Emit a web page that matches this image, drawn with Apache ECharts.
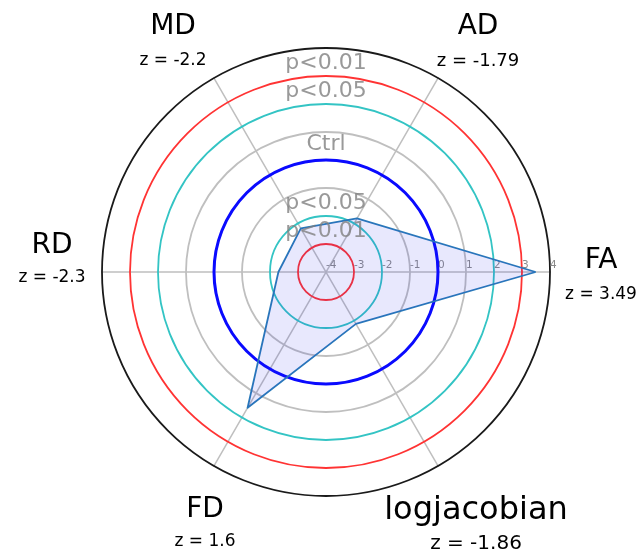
<!DOCTYPE html>
<html>
<head>
<meta charset="utf-8">
<script src="https://cdn.jsdelivr.net/npm/echarts@6/dist/echarts.min.js"></script>
<style>
  html, body { margin: 0; padding: 0; background: #ffffff; }
  #chart { width: 642px; height: 554px; }
</style>
</head>
<body>
<div id="chart"></div>
<script>
// Diffusion metrics, z-scores against controls
const axisNames = ['FA', 'AD', 'MD', 'RD', 'FD', 'logjacobian'];
const zScores = [3.49, -1.79, -2.2, -2.3, 1.6, -1.86];

// radial scale of z
const rMin = -4;
const rMax = 4;
const rStep = 1;

// reference bands drawn as circles (index = tick index from rMin)
const bandLabels = ['p<0.01', 'p<0.05', 'Ctrl', 'p<0.05', 'p<0.01'];
const bandLabelRadii = [3.45, 2.45, 0.55, -1.55, -2.55];

const CX = 326, CY = 272, R = 224;
const FONT = 'DejaVu Sans';
const GRID = '#bfbfbf';

const ringColors = [GRID, '#ff3333', '#33c4c4', GRID, GRID, GRID, '#33c4c4', '#ff3333', '#1a1a1a'];
const ctrlRingColors = ['transparent', 'transparent', 'transparent', 'transparent', '#0a0aff',
  'transparent', 'transparent', 'transparent', 'transparent'];

// placement of the axis titles around the dial
const titleLayout = [
  { x: 601, y: 261, zy: 295, size: 28, zsize: 17 },
  { x: 478, y: 27, zy: 61, size: 28, zsize: 18 },
  { x: 173, y: 27, zy: 61, size: 28, zsize: 17 },
  { x: 52, y: 246, zy: 278, size: 28, zsize: 17 },
  { x: 205, y: 510, zy: 542, size: 28, zsize: 17 },
  { x: 476, y: 511, zy: 544, size: 32, zsize: 20 }
];

const graphics = [];
axisNames.forEach(function (name, i) {
  const L = titleLayout[i];
  graphics.push({
    type: 'text', x: L.x, y: L.y, silent: true,
    style: { text: name, fill: '#000', fontFamily: FONT, fontSize: L.size, align: 'center', verticalAlign: 'middle' }
  });
  graphics.push({
    type: 'text', x: L.x, y: L.zy, silent: true,
    style: { text: 'z = ' + zScores[i], fill: '#000', fontFamily: FONT, fontSize: L.zsize, align: 'center', verticalAlign: 'middle' }
  });
});

function angleAxisHidden(idx) {
  return {
    polarIndex: idx, type: 'value', min: 0, max: 360, startAngle: 0, clockwise: false,
    axisLine: { show: false }, axisTick: { show: false }, axisLabel: { show: false }, splitLine: { show: false }
  };
}

const chart = echarts.init(document.getElementById('chart'), null, { renderer: 'canvas' });
chart.setOption({
  backgroundColor: '#ffffff',
  animation: false,
  polar: [
    { center: [CX, CY], radius: R },
    { center: [CX, CY], radius: R }
  ],
  angleAxis: [angleAxisHidden(0), angleAxisHidden(1)],
  radiusAxis: [
    {
      polarIndex: 0, type: 'value', min: rMin, max: rMax, interval: rStep, z: 1,
      axisLine: { show: false }, axisTick: { show: false },
      axisLabel: {
        show: true, color: '#8a8a8a', fontFamily: FONT, fontSize: 10.5,
        align: 'left', verticalAlign: 'bottom', margin: 1
      },
      splitLine: { show: true, lineStyle: { color: ringColors, width: 1.8 } }
    },
    {
      polarIndex: 1, type: 'value', min: rMin, max: rMax, interval: rStep, z: 2,
      axisLine: { show: false }, axisTick: { show: false }, axisLabel: { show: false },
      splitLine: { show: true, lineStyle: { color: ctrlRingColors, width: 3 } }
    }
  ],
  radar: {
    center: [CX, CY],
    radius: R,
    startAngle: 0,
    shape: 'circle',
    splitNumber: 8,
    indicator: axisNames.map(function (n) { return { name: n, min: rMin, max: rMax }; }),
    axisName: { show: false },
    axisLine: { lineStyle: { color: GRID, width: 1.5 } },
    splitLine: { show: false },
    splitArea: { show: false },
    axisLabel: { show: false }
  },
  series: [
    {
      type: 'radar',
      symbol: 'none',
      z: 3,
      lineStyle: { color: '#2a7ab9', width: 1.8 },
      areaStyle: { color: 'rgba(40, 40, 235, 0.15)' },
      data: [{ value: zScores, name: 'z' }]
    },
    {
      type: 'scatter',
      coordinateSystem: 'polar',
      polarIndex: 0,
      symbolSize: 0,
      silent: true,
      z: 4,
      label: {
        show: true, position: 'inside', formatter: '{b}',
        color: '#808080', fontFamily: FONT, fontSize: 22
      },
      data: bandLabels.map(function (t, i) { return { name: t, value: [bandLabelRadii[i], 90] }; })
    }
  ],
  graphic: graphics
});
</script>
</body>
</html>
